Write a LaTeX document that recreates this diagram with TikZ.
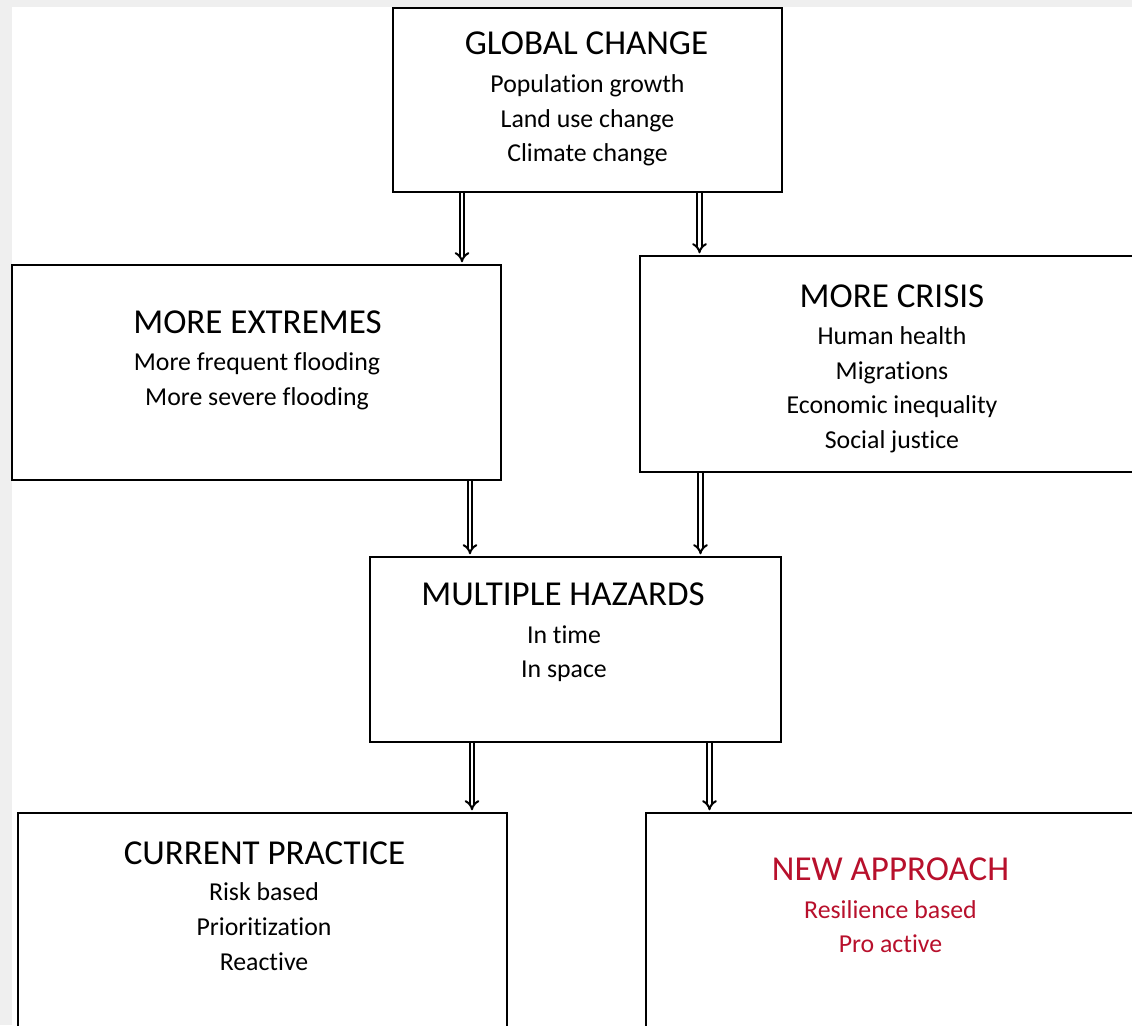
\documentclass[tikz,border=0pt]{standalone}
\usepackage{fontspec}
\setmainfont{Carlito}[Ligatures={NoCommon}]
\usetikzlibrary{arrows.meta}
\definecolor{newred}{RGB}{184,16,44}
\definecolor{framegray}{RGB}{239,239,239}
\tikzset{
  box/.style={draw=black, line width=2.6pt, rectangle, inner sep=0pt},
  ttl/.style={inner sep=0pt, anchor=base, font=\fontsize{35}{40}\selectfont},
  sub/.style={inner sep=0pt, anchor=base, font=\fontsize{25.8}{30}\selectfont},
  arr/.style={double=white, double distance=2.8pt, line width=2pt, -{Implies[length=6pt, width=14pt]}, shorten >=1.4pt}
}
\begin{document}
\begin{tikzpicture}[x=1pt, y=-1pt]
\useasboundingbox (0,0) rectangle (1132,1025);
\clip (0,0) rectangle (1132,1025);
\fill[framegray] (0,0) rectangle (1132,1025);
\fill[white] (12,7) rectangle (1132,1025);

% boxes
\node[box, minimum width=389pt, minimum height=184pt] (gc) at (587.5,100) {};
\node[box, minimum width=489pt, minimum height=215pt] (me) at (256.5,372.5) {};
\node[box, minimum width=510pt, minimum height=216pt] (mc) at (895,364) {};
\node[box, minimum width=411pt, minimum height=185pt] (mh) at (575.5,649.5) {};
\node[box, minimum width=489pt, minimum height=237pt] (cp) at (262.5,931.5) {};
\node[box, minimum width=504pt, minimum height=237pt] (na) at (898,931.5) {};

% texts
\node[ttl] (gct) at (586.5,55) {GLOBAL CHANGE};
\node[sub] (gc1) at (587.5,92.5) {Population growth};
\node[sub] (gc2) at (587.5,127) {Land use change};
\node[sub] (gc3) at (587.5,161.5) {Climate change};

\node[ttl] (met) at (257.5,333) {MORE EXTREMES};
\node[sub] (me1) at (257,370.5) {More frequent flooding};
\node[sub] (me2) at (257,405) {More severe flooding};

\node[ttl] (mct) at (892,307) {MORE CRISIS};
\node[sub] (mc1) at (892,344.5) {Human health};
\node[sub] (mc2) at (892,379) {Migrations};
\node[sub] (mc3) at (892,413.5) {Economic inequality};
\node[sub] (mc4) at (892,448) {Social justice};

\node[ttl] (mht) at (563,605) {MULTIPLE HAZARDS};
\node[sub] (mh1) at (564,643) {In time};
\node[sub] (mh2) at (564,677.5) {In space};

\node[ttl] (cpt) at (264.5,864) {CURRENT PRACTICE};
\node[sub] (cp1) at (264,900.5) {Risk based};
\node[sub] (cp2) at (264,935.5) {Prioritization};
\node[sub] (cp3) at (264,970.5) {Reactive};

\node[ttl, text=newred] (nat) at (890.5,880) {NEW APPROACH};
\node[sub, text=newred] (na1) at (890.5,918) {Resilience based};
\node[sub, text=newred] (na2) at (890.5,952.5) {Pro active};

% arrow columns
\coordinate (a1) at (462,0);
\coordinate (a2) at (699.5,0);
\coordinate (a3) at (470,0);
\coordinate (a4) at (700.5,0);
\coordinate (a5) at (472,0);
\coordinate (a6) at (709.5,0);

\draw[arr] (gc.south -| a1) -- (me.north -| a1);
\draw[arr] (gc.south -| a2) -- (mc.north -| a2);
\draw[arr] (me.south -| a3) -- (mh.north -| a3);
\draw[arr] (mc.south -| a4) -- (mh.north -| a4);
\draw[arr] (mh.south -| a5) -- (cp.north -| a5);
\draw[arr] (mh.south -| a6) -- (na.north -| a6);
\end{tikzpicture}
\end{document}
